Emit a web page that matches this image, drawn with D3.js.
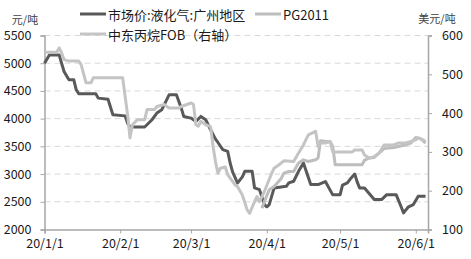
<!DOCTYPE html>
<html>
<head>
<meta charset="utf-8">
<script src="https://cdn.jsdelivr.net/npm/d3@7"></script>
<style>
  body { margin: 0; background: #fff; }
  svg text { font-family: "Microsoft YaHei", "Noto Sans CJK SC", sans-serif; }
</style>
</head>
<body>
<div id="chart"></div>
<script>
// 市场价:液化气:广州地区 (左轴, 元/吨)
var marketDates = ["2020-01-01","2020-01-03","2020-01-07","2020-01-08","2020-01-09","2020-01-11","2020-01-13","2020-01-14","2020-01-15","2020-01-22","2020-01-23","2020-01-27","2020-01-29","2020-02-03","2020-02-04","2020-02-05","2020-02-11","2020-02-14","2020-02-16","2020-02-18","2020-02-19","2020-02-21","2020-02-24","2020-02-26","2020-02-27","2020-03-01","2020-03-03","2020-03-05","2020-03-07","2020-03-09","2020-03-11","2020-03-12","2020-03-14","2020-03-16","2020-03-17","2020-03-18","2020-03-20","2020-03-22","2020-03-23","2020-03-26","2020-03-27","2020-03-29","2020-03-31","2020-04-01","2020-04-02","2020-04-04","2020-04-09","2020-04-10","2020-04-12","2020-04-14","2020-04-16","2020-04-19","2020-04-22","2020-04-25","2020-04-28","2020-05-01","2020-05-02","2020-05-04","2020-05-05","2020-05-07","2020-05-08","2020-05-09","2020-05-11","2020-05-15","2020-05-18","2020-05-20","2020-05-24","2020-05-26","2020-05-27","2020-05-29","2020-05-31","2020-06-02","2020-06-05"];
var marketValues = [5000,5150,5150,5000,4850,4700,4700,4520,4450,4450,4370,4350,4070,4050,3920,3850,3850,3980,4100,4160,4250,4430,4430,4190,4040,4010,3950,4040,3980,3800,3630,3570,3440,3410,3200,3040,2840,2950,3050,3050,2750,2720,2450,2410,2450,2750,2780,2840,2870,3050,3200,2810,2810,2865,2625,2625,2800,2840,2900,3000,2860,2750,2750,2540,2540,2625,2625,2410,2300,2410,2450,2600,2600];

// PG2011 (左轴, 元/吨)
var pgDates = ["2020-03-30","2020-03-31","2020-04-02","2020-04-04","2020-04-07","2020-04-08","2020-04-10","2020-04-12","2020-04-14","2020-04-16","2020-04-18","2020-04-21","2020-04-22","2020-04-23","2020-04-27","2020-04-28","2020-04-29","2020-05-10","2020-05-11","2020-05-13","2020-05-15","2020-05-19","2020-05-23","2020-05-28","2020-05-30","2020-06-01","2020-06-03","2020-06-05"];
var pgValues = [2384,2503,2715,2774,2926,3017,3046,3046,3198,3257,3227,3257,3288,3600,3580,3500,3167,3167,3250,3290,3300,3460,3480,3530,3560,3660,3640,3560];

// 中东丙烷FOB (右轴, 美元/吨)
var fobDates = ["2020-01-01","2020-01-06","2020-01-07","2020-01-08","2020-01-09","2020-01-11","2020-01-15","2020-01-16","2020-01-18","2020-01-20","2020-01-21","2020-02-02","2020-02-04","2020-02-05","2020-02-06","2020-02-08","2020-02-11","2020-02-12","2020-02-15","2020-02-16","2020-02-19","2020-02-21","2020-02-25","2020-02-26","2020-03-01","2020-03-02","2020-03-03","2020-03-04","2020-03-05","2020-03-07","2020-03-09","2020-03-10","2020-03-11","2020-03-12","2020-03-13","2020-03-15","2020-03-16","2020-03-18","2020-03-19","2020-03-20","2020-03-22","2020-03-24","2020-03-25","2020-03-27","2020-03-28","2020-03-29","2020-03-31","2020-04-03","2020-04-04","2020-04-06","2020-04-08","2020-04-12","2020-04-14","2020-04-16","2020-04-18","2020-04-21","2020-04-22","2020-04-23","2020-04-25","2020-04-27","2020-04-28","2020-05-01","2020-05-06","2020-05-07","2020-05-10","2020-05-11","2020-05-13","2020-05-15","2020-05-17","2020-05-19","2020-05-23","2020-05-25","2020-05-28","2020-05-30","2020-06-01","2020-06-02","2020-06-04","2020-06-05"];
var fobValues = [557,557,568,555,538,534,534,525,478,478,491,491,396,336,370,383,383,409,409,417,422,413,413,417,426,422,370,366,379,370,365,314,275,245,258,261,241,224,215,211,189,150,142,172,185,172,198,245,258,267,277,275,297,318,344,353,314,323,323,327,300,300,300,305,305,292,284,288,297,318,318,323,323,327,331,336,331,327];

var leftTicks = [2000,2500,3000,3500,4000,4500,5000,5500];
var rightTicks = [100,200,300,400,500,600];
var xTicks = ["2020-01-01","2020-02-01","2020-03-01","2020-04-01","2020-05-01","2020-06-01"];

var width = 471, height = 259;
var margin = {top: 35.5, right: 43, bottom: 29.5, left: 44.5};

var parse = d3.timeParse("%Y-%m-%d");

var svg = d3.select("#chart")
    .append("svg")
    .attr("width", width)
    .attr("height", height);

var x = d3.scaleTime()
    .domain([parse("2020-01-01"), parse("2020-06-06")])
    .range([margin.left, width - margin.right]);

var yLeft = d3.scaleLinear()
    .domain([2000, 5500])
    .range([height - margin.bottom, margin.top]);

var yRight = d3.scaleLinear()
    .domain([100, 600])
    .range([height - margin.bottom, margin.top]);

// grid
svg.append("g")
    .selectAll("line")
    .data(leftTicks.slice(1))
    .enter()
    .append("line")
    .attr("x1", margin.left)
    .attr("x2", width - margin.right)
    .attr("y1", function(d) { return yLeft(d); })
    .attr("y2", function(d) { return yLeft(d); })
    .attr("stroke", "#d9d9d9")
    .attr("stroke-width", 1)
    .attr("stroke-dasharray", "6,4");

var axisColor = "#a6a6a6";

var leftAxis = svg.append("g")
    .attr("transform", "translate(" + margin.left + ",0)")
    .call(d3.axisLeft(yLeft).tickValues(leftTicks).tickFormat(d3.format("d")).tickSize(4).tickPadding(9));

var rightAxis = svg.append("g")
    .attr("transform", "translate(" + (width - margin.right) + ",0)")
    .call(d3.axisRight(yRight).tickValues(rightTicks).tickFormat(d3.format("d")).tickSize(4).tickPadding(10));

var bottomAxis = svg.append("g")
    .attr("transform", "translate(0," + (height - margin.bottom) + ")")
    .call(d3.axisBottom(x)
        .tickValues(xTicks.map(parse))
        .tickFormat(d3.timeFormat("%y/%-m/%-d"))
        .tickSize(4)
        .tickPadding(6));

[leftAxis, rightAxis, bottomAxis].forEach(function(a) {
    a.select(".domain").attr("stroke", axisColor).attr("stroke-width", 1.5);
    a.selectAll(".tick line").attr("stroke", axisColor);
    a.selectAll("text")
        .attr("font-size", 12.5)
        .attr("fill", "#1a1a1a");
});

// lines
function addLine(dates, values, yScale, color) {
    var pts = dates.map(function(d, i) { return [parse(d), values[i]]; });
    svg.append("path")
        .datum(pts)
        .attr("fill", "none")
        .attr("stroke", color)
        .attr("stroke-width", 3)
        .attr("stroke-linejoin", "round")
        .attr("d", d3.line()
            .x(function(p) { return x(p[0]); })
            .y(function(p) { return yScale(p[1]); }));
}

addLine(marketDates, marketValues, yLeft, "#595959");
addLine(pgDates, pgValues, yLeft, "#bdbdbd");
addLine(fobDates, fobValues, yRight, "#c4c4c4");

// units
svg.append("text")
    .attr("x", 25).attr("y", 19)
    .attr("text-anchor", "middle")
    .attr("dominant-baseline", "central")
    .attr("font-size", 11)
    .attr("fill", "#404040")
    .text("元/吨");

svg.append("text")
    .attr("x", 437).attr("y", 18)
    .attr("text-anchor", "middle")
    .attr("dominant-baseline", "central")
    .attr("font-size", 11)
    .attr("fill", "#404040")
    .text("美元/吨");

// legend
var legendItems = [
    {name: "市场价:液化气:广州地区", color: "#595959", x: 80, y: 14},
    {name: "PG2011", color: "#bdbdbd", x: 255, y: 14},
    {name: "中东丙烷FOB（右轴）", color: "#c4c4c4", x: 80, y: 34}
];

var legend = svg.selectAll(".legend")
    .data(legendItems)
    .enter()
    .append("g")
    .attr("class", "legend")
    .attr("transform", function(d) { return "translate(" + d.x + "," + d.y + ")"; });

legend.append("line")
    .attr("x1", 0).attr("x2", 26)
    .attr("stroke", function(d) { return d.color; })
    .attr("stroke-width", 3);

legend.append("text")
    .attr("x", 28)
    .attr("dominant-baseline", "central")
    .attr("font-size", 13)
    .attr("fill", "#1a1a1a")
    .text(function(d) { return d.name; });
</script>
</body>
</html>
